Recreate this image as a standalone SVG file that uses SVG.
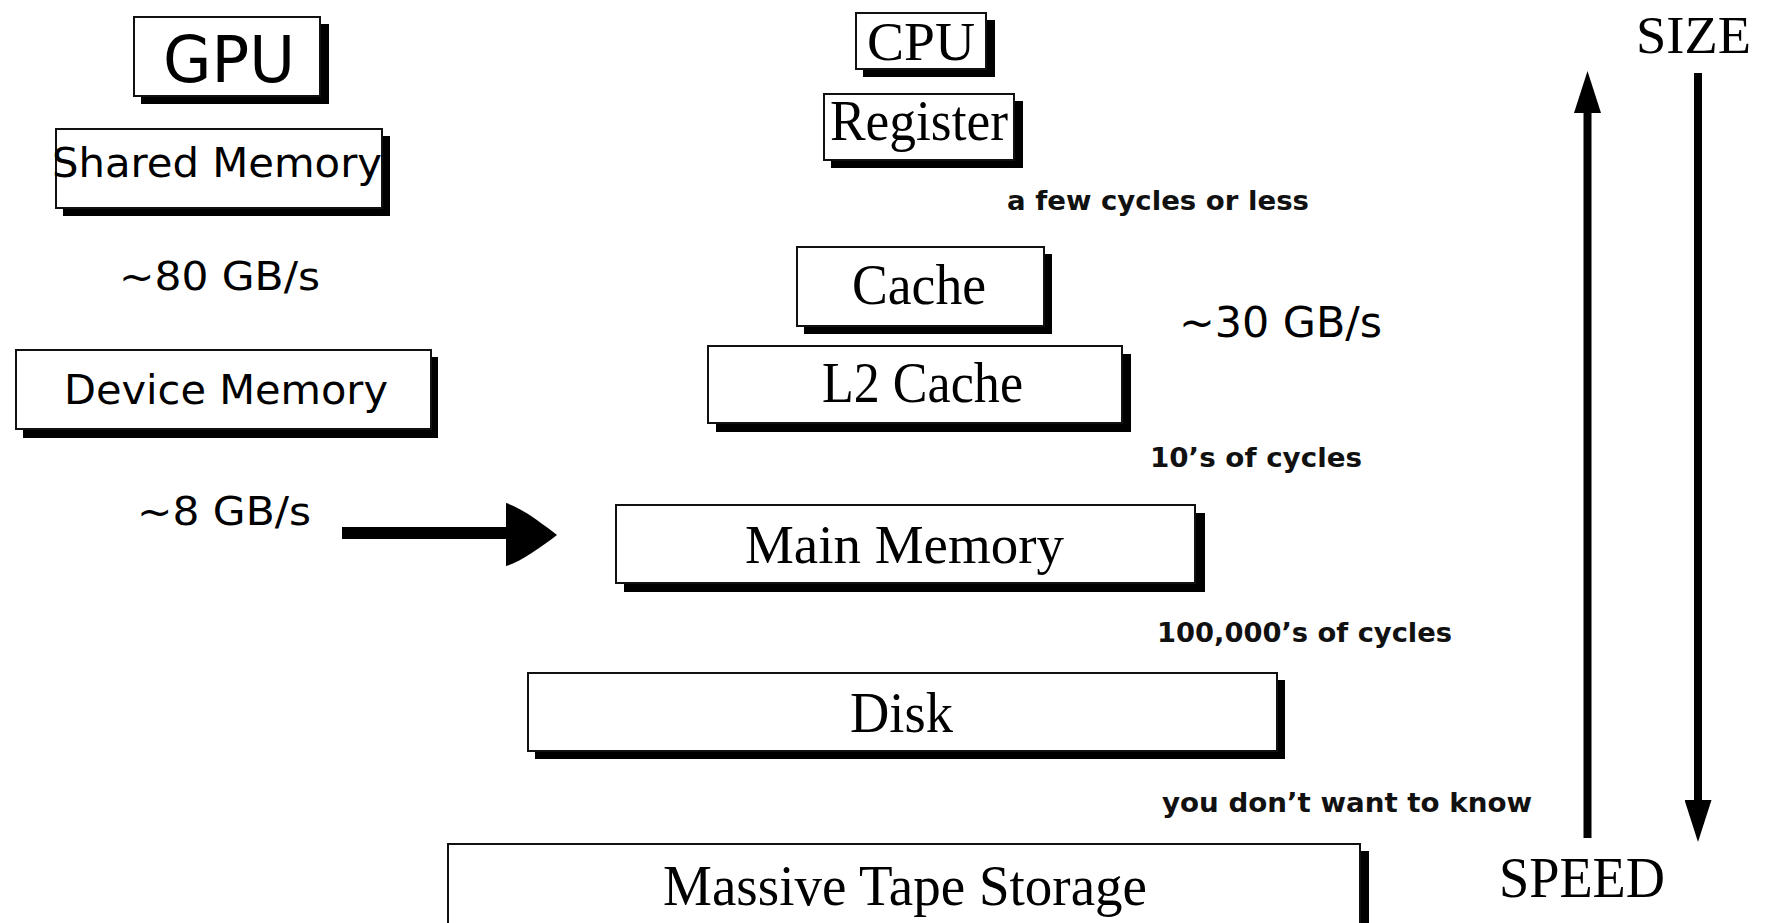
<svg xmlns="http://www.w3.org/2000/svg" width="1770" height="923" viewBox="0 0 1770 923">
  <style>
    .shadow { fill: #000; }
    .box { fill: #fff; stroke: #111; stroke-width: 2; }
    .sans { font-family: "DejaVu Sans", "Liberation Sans", sans-serif; fill: #000; }
    .serif { font-family: "Liberation Serif", "Times New Roman", serif; fill: #000; }
    .note { font-family: "DejaVu Sans", "Liberation Sans", sans-serif; font-weight: bold; font-size: 26px; fill: #111; }
    .axis { stroke: #000; stroke-width: 8; fill: none; }
  </style>
  <defs>
    <marker id="axisHead" markerUnits="userSpaceOnUse" viewBox="0 0 42 27" markerWidth="42" markerHeight="27" refX="13" refY="13.5" orient="auto">
      <path d="M0,0 L42,13.5 L0,27 Z" fill="#000"/>
    </marker>
  </defs>
  <rect width="1770" height="923" fill="#fff"/>

  <!-- GPU side -->
  <g id="gpu">
    <rect class="shadow" x="141" y="24" width="188" height="80"/>
    <rect class="box" x="134" y="17" width="186" height="79"/>
    <text class="sans" x="163" y="82" font-size="64" textLength="132" lengthAdjust="spacingAndGlyphs">GPU</text>
  </g>
  <g id="shared-memory">
    <rect class="shadow" x="63" y="136" width="327" height="80"/>
    <rect class="box" x="56" y="129" width="326" height="79"/>
    <text class="sans" x="52" y="177" font-size="41" textLength="330" lengthAdjust="spacingAndGlyphs">Shared Memory</text>
  </g>
  <g id="bw-shared">
    <text class="sans" x="119" y="290" font-size="39" textLength="201" lengthAdjust="spacingAndGlyphs">~80 GB/s</text>
  </g>
  <g id="device-memory">
    <rect class="shadow" x="23" y="357" width="415" height="81"/>
    <rect class="box" x="16" y="350" width="415" height="79"/>
    <text class="sans" x="64" y="404" font-size="41" textLength="324" lengthAdjust="spacingAndGlyphs">Device Memory</text>
  </g>
  <g id="bw-device">
    <text class="sans" x="137" y="525" font-size="39" textLength="174" lengthAdjust="spacingAndGlyphs">~8 GB/s</text>
  </g>

  <!-- CPU memory hierarchy -->
  <g id="cpu">
    <rect class="shadow" x="863" y="20" width="132" height="57"/>
    <rect class="box" x="856" y="13" width="130" height="56"/>
    <text class="serif" x="867" y="60" font-size="54" textLength="108" lengthAdjust="spacingAndGlyphs">CPU</text>
  </g>
  <g id="register">
    <rect class="shadow" x="831" y="101" width="192" height="67"/>
    <rect class="box" x="824" y="94" width="190" height="66"/>
    <text class="serif" x="830" y="140" font-size="57" textLength="178" lengthAdjust="spacingAndGlyphs">Register</text>
  </g>
  <g id="lat-register">
    <text class="note" x="1007" y="210" textLength="302" lengthAdjust="spacingAndGlyphs">a few cycles or less</text>
  </g>
  <g id="cache">
    <rect class="shadow" x="804" y="254" width="248" height="80"/>
    <rect class="box" x="797" y="247" width="247" height="79"/>
    <text class="serif" x="852" y="304" font-size="56" textLength="134" lengthAdjust="spacingAndGlyphs">Cache</text>
  </g>
  <g id="bw-cache">
    <text class="sans" x="1179" y="337" font-size="42" textLength="203" lengthAdjust="spacingAndGlyphs">~30 GB/s</text>
  </g>
  <g id="l2-cache">
    <rect class="shadow" x="716" y="354" width="415" height="78"/>
    <rect class="box" x="708" y="346" width="414" height="77"/>
    <text class="serif" x="822" y="402" font-size="58" textLength="201" lengthAdjust="spacingAndGlyphs">L2 Cache</text>
  </g>
  <g id="lat-cache">
    <text class="note" x="1150" y="467" textLength="212" lengthAdjust="spacingAndGlyphs">10’s of cycles</text>
  </g>
  <g id="main-memory">
    <rect class="shadow" x="624" y="513" width="581" height="79"/>
    <rect class="box" x="616" y="505" width="579" height="78"/>
    <text class="serif" x="745" y="563" font-size="55" textLength="319" lengthAdjust="spacingAndGlyphs">Main Memory</text>
  </g>
  <g id="lat-memory">
    <text class="note" x="1157" y="642" textLength="295" lengthAdjust="spacingAndGlyphs">100,000’s of cycles</text>
  </g>
  <g id="disk">
    <rect class="shadow" x="535" y="680" width="750" height="79"/>
    <rect class="box" x="528" y="673" width="749" height="78"/>
    <text class="serif" x="850" y="732" font-size="57" textLength="103" lengthAdjust="spacingAndGlyphs">Disk</text>
  </g>
  <g id="lat-disk">
    <text class="note" x="1162" y="812" textLength="370" lengthAdjust="spacingAndGlyphs">you don’t want to know</text>
  </g>
  <g id="tape">
    <rect class="shadow" x="456" y="851" width="913" height="100"/>
    <rect class="box" x="448" y="844" width="912" height="100"/>
    <text class="serif" x="663" y="905" font-size="58" textLength="484" lengthAdjust="spacingAndGlyphs">Massive Tape Storage</text>
  </g>

  <!-- axis labels -->
  <g id="size-label">
    <text class="serif" x="1636" y="53" font-size="53" textLength="115" lengthAdjust="spacingAndGlyphs">SIZE</text>
  </g>
  <g id="speed-label">
    <text class="serif" x="1499" y="897" font-size="56" textLength="166" lengthAdjust="spacingAndGlyphs">SPEED</text>
  </g>

  <!-- connectors -->
  <g id="connectors">
    <!-- PCIe transfer arrow from device memory to main memory -->
    <rect x="342" y="527" width="166" height="12" fill="#000"/>
    <path d="M506,503 C520,507 540,522 557,535 C540,548 520,562 506,566 Z" fill="#000"/>
    <!-- speed increases upward, size increases downward -->
    <line class="axis" x1="1587.5" y1="838" x2="1587.5" y2="100" marker-end="url(#axisHead)"/>
    <line class="axis" x1="1698" y1="73" x2="1698" y2="813" marker-end="url(#axisHead)"/>
  </g>
</svg>
